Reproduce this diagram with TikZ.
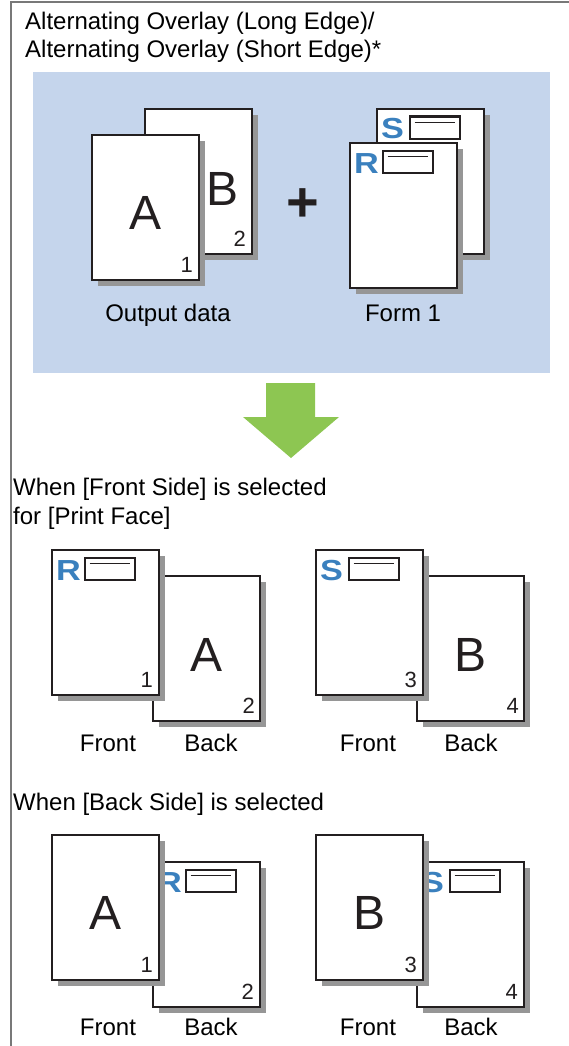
\documentclass[tikz,border=0pt]{standalone}
\usepackage{fontspec}
\setmainfont{Liberation Sans}
\usepackage{graphicx}
\usetikzlibrary{calc}
\definecolor{panelblue}{RGB}{197,213,236}
\definecolor{shadowgray}{RGB}{150,150,150}
\definecolor{pagedark}{RGB}{35,31,32}
\definecolor{framegray}{RGB}{120,120,120}
\definecolor{markblue}{RGB}{58,128,190}
\definecolor{arrowgreen}{RGB}{141,198,82}
\tikzset{
  sheetbox/.style={draw=pagedark, line width=1.9pt, fill=white, minimum width=107pt, minimum height=145pt, inner sep=0pt, outer sep=0pt, anchor=north west},
  bigletter/.style={font=\fontsize{48}{48}\selectfont, text=pagedark, inner sep=0pt},
  pagenum/.style={font=\fontsize{22}{22}\selectfont, text=pagedark, inner sep=0pt, anchor=base east},
  label/.style={font=\fontsize{24}{29}\selectfont, text=black, inner sep=0pt, anchor=base},
  heading/.style={font=\fontsize{24}{29}\selectfont, text=black, inner sep=0pt, anchor=base west},
  formletter/.style={font=\bfseries\fontsize{29}{29}\selectfont, text=markblue, inner sep=0pt, anchor=base west},
  formbox/.style={draw=pagedark, line width=2.2pt, fill=white, minimum width=50pt, minimum height=22pt, inner sep=0pt, anchor=north west},
  formline/.style={draw=pagedark, line width=1.8pt},
}
\newcommand\sheet[3]{%
  \fill[shadowgray] (#2+6,#3+6) rectangle (#2+113,#3+151);
  \node[sheetbox] (#1) at (#2,#3) {};
}
\newcommand\formmark[3]{%
  \node[formletter] (#1L) at ($(#3.north west)+(4,30)$) {\scalebox{1.18}[1]{#2}};
  \node[formbox] (#1B) at ($(#3.north west)+(31.5,6.5)$) {};
  \draw[formline] ($(#1B.north west)+(6,7)$) -- ($(#1B.north east)+(-6,7)$);
}
\begin{document}
\begin{tikzpicture}[x=1pt,y=-1pt]
\useasboundingbox (0,0) rectangle (569,1046);
% frame
\draw[framegray, line width=1.3pt] (11,1046) -- (11,2) -- (569,2);
% title
\node[heading] (t1) at (25,30) {Alternating Overlay (Long Edge)/};
\node[heading] (t2) at (25,58) {Alternating Overlay (Short Edge)*};
% panel
\node[fill=panelblue, minimum width=517pt, minimum height=301pt, inner sep=0pt, anchor=north west] (panel) at (33,72) {};
% output data
\sheet{odB}{145}{109}
\node[bigletter] (odBl) at ($(odB.north west)+(78,80)$) {B};
\node[pagenum] (odBn) at ($(odB.south east)+(-6,-8)$) {2};
\sheet{odA}{92}{135}
\node[bigletter] (odAl) at ($(odA.north west)+(53.5,78)$) {A};
\node[pagenum] (odAn) at ($(odA.south east)+(-6,-8)$) {1};
\node[label] (odlab) at (168,321) {Output data};
% plus
\node[font=\bfseries\fontsize{56}{56}\selectfont, text=pagedark, inner sep=0pt] (plus) at (303,205) {+};
% form 1
\sheet{fS}{377}{109}
\formmark{fSm}{S}{fS}
\sheet{fR}{350}{143}
\formmark{fRm}{R}{fR}
\node[label] (flab) at (403,321) {Form 1};
% arrow
\fill[arrowgreen] (266,383) -- (315,383) -- (315,417) -- (339,417) -- (291,458) -- (243,417) -- (266,417) -- cycle;
% section 1
\node[heading] (h1) at (13,495) {When [Front Side] is selected};
\node[heading] (h2) at (13,524) {for [Print Face]};
% row 1 left
\sheet{r1lb}{153}{576}
\node[bigletter] (r1lbl) at ($(r1lb.north west)+(53.5,79)$) {A};
\node[pagenum] (r1lbn) at ($(r1lb.south east)+(-5,-8)$) {2};
\sheet{r1lf}{52}{550}
\formmark{r1lfm}{R}{r1lf}
\node[pagenum] (r1lfn) at ($(r1lf.south east)+(-6,-8)$) {1};
\node[label] (r1lfl) at (108,751) {Front};
\node[label] (r1lbt) at (211,751) {Back};
% row 1 right
\sheet{r1rb}{417}{576}
\node[bigletter] (r1rbl) at ($(r1rb.north west)+(53.5,79)$) {B};
\node[pagenum] (r1rbn) at ($(r1rb.south east)+(-5,-8)$) {4};
\sheet{r1rf}{316}{550}
\formmark{r1rfm}{S}{r1rf}
\node[pagenum] (r1rfn) at ($(r1rf.south east)+(-6,-8)$) {3};
\node[label] (r1rfl) at (368,751) {Front};
\node[label] (r1rbt) at (471,751) {Back};
% section 2
\node[heading] (h3) at (13,810) {When [Back Side] is selected};
% row 2 left
\sheet{r2lb}{153}{862}
\formmark{r2lbm}{R}{r2lb}
\node[pagenum] (r2lbn) at ($(r2lb.south east)+(-6,-8)$) {2};
\sheet{r2lf}{52}{835}
\node[bigletter] (r2lfl) at ($(r2lf.north west)+(54,78)$) {A};
\node[pagenum] (r2lfn) at ($(r2lf.south east)+(-6,-8)$) {1};
\node[label] (r2lfl2) at (108,1035) {Front};
\node[label] (r2lbt) at (211,1035) {Back};
% row 2 right
\sheet{r2rb}{417}{862}
\formmark{r2rbm}{S}{r2rb}
\node[pagenum] (r2rbn) at ($(r2rb.south east)+(-6,-8)$) {4};
\sheet{r2rf}{316}{835}
\node[bigletter] (r2rfl) at ($(r2rf.north west)+(54,78)$) {B};
\node[pagenum] (r2rfn) at ($(r2rf.south east)+(-6,-8)$) {3};
\node[label] (r2rfl2) at (368,1035) {Front};
\node[label] (r2rbt) at (471,1035) {Back};
\end{tikzpicture}
\end{document}
